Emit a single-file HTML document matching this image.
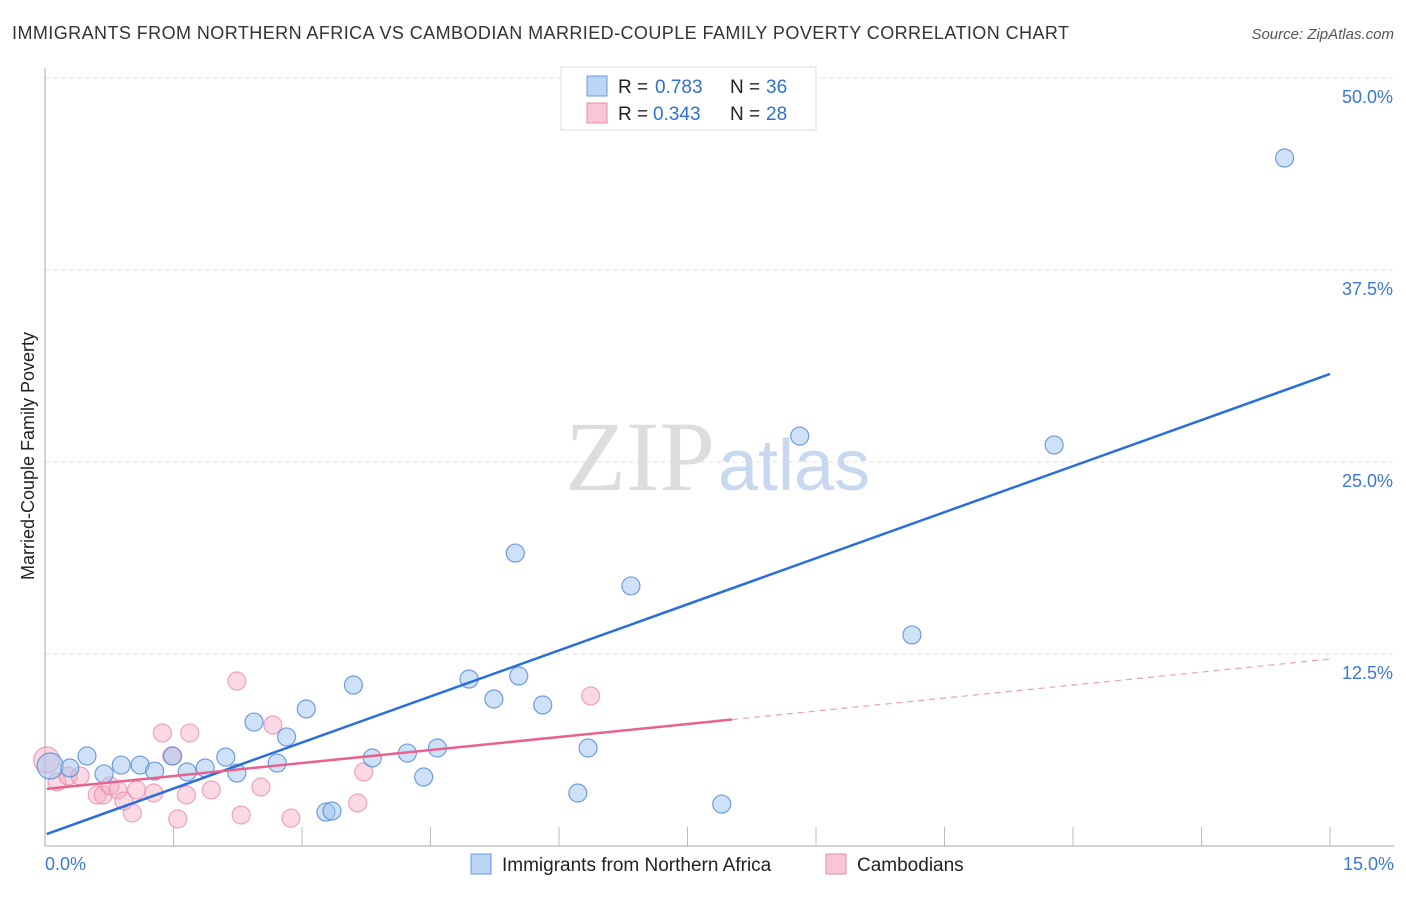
<!DOCTYPE html>
<html><head><meta charset="utf-8"><style>
body{margin:0;background:#fff;font-family:"Liberation Sans",sans-serif;}
</style></head><body>
<svg width="1406" height="892" viewBox="0 0 1406 892" xmlns="http://www.w3.org/2000/svg">
<text x="12" y="39" font-size="18" fill="#333" textLength="1057">IMMIGRANTS FROM NORTHERN AFRICA VS CAMBODIAN MARRIED-COUPLE FAMILY POVERTY CORRELATION CHART</text>
<text x="1394" y="39" font-size="15" fill="#555" font-style="italic" text-anchor="end">Source: ZipAtlas.com</text>
<text x="715" y="490" font-size="100" fill="#ddd" font-family="Liberation Serif,serif" text-anchor="end">ZIP</text>
<text x="718" y="490" font-size="72" fill="#c8d8f0">atlas</text>
<g id="grid"></g>
<g id="axes"></g>
<g id="marks"></g>
<text x="34" y="456" font-size="18" fill="#222" text-anchor="middle" transform="rotate(-90 34 456)">Married-Couple Family Poverty</text>
<text x="45" y="870" font-size="18" fill="#3a78d8">0.0%</text>
<text x="1394" y="870" font-size="18" fill="#3a78d8" text-anchor="end">15.0%</text>
<g>
<rect x="561" y="67" width="255" height="63" fill="#fff" stroke="#ddd"/>
<rect x="587" y="76" width="20" height="20" fill="#bcd4f5" stroke="#6a9ae0"/>
<rect x="587" y="103" width="20" height="20" fill="#f9c6d6" stroke="#ea8aa8"/>
<text x="618" y="93" font-size="19" fill="#222">R = </text><text x="655" y="93" font-size="19" fill="#2f6fd6">0.783</text>
<text x="730" y="93" font-size="19" fill="#222">N = </text><text x="766" y="93" font-size="19" fill="#2f6fd6">36</text>
<text x="618" y="120" font-size="19" fill="#222">R = </text><text x="653" y="120" font-size="19" fill="#2f6fd6">0.343</text>
<text x="730" y="120" font-size="19" fill="#222">N = </text><text x="766" y="120" font-size="19" fill="#2f6fd6">28</text>
</g>
<g>
<rect x="471" y="854" width="20" height="20" fill="#bcd4f5" stroke="#6a9ae0"/>
<text x="502" y="871" font-size="19" fill="#222">Immigrants from Northern Africa</text>
<rect x="826" y="854" width="20" height="20" fill="#f9c6d6" stroke="#ea8aa8"/>
<text x="857" y="871" font-size="19" fill="#222">Cambodians</text>
</g>
</svg>
<script>
const yTicks=[12.5,25,37.5,50];
const yTickLabels=["12.5%","25.0%","37.5%","50.0%"];
const blueX=[0.06,0.29,0.49,0.69,0.89,1.11,1.28,1.49,1.66,1.87,2.11,2.24,2.44,2.71,2.82,3.05,3.28,3.35,3.60,3.82,4.23,4.42,4.58,4.95,5.24,5.49,5.53,5.81,6.22,6.34,6.84,7.90,8.81,10.12,11.78,14.47];
const blueY=[5.21,5.08,5.86,4.69,5.27,5.27,4.88,5.86,4.82,5.08,5.79,4.75,8.07,5.40,7.10,8.92,2.21,2.28,10.48,5.73,6.05,4.49,6.38,10.87,9.57,19.07,11.07,9.18,3.45,6.38,16.93,2.73,26.69,13.74,26.11,44.79];
const pinkX=[0.02,0.14,0.27,0.41,0.61,0.68,0.76,0.85,0.92,1.02,1.07,1.27,1.37,1.48,1.55,1.65,1.69,1.94,2.24,2.29,2.52,2.66,2.87,3.65,3.72,6.37];
const pinkY=[5.60,4.17,4.56,4.56,3.32,3.32,3.91,3.65,2.93,2.15,3.65,3.45,7.36,5.86,1.76,3.32,7.36,3.65,10.74,2.02,3.84,7.88,1.82,2.80,4.82,9.77];
const blueTrend=[0.78,30.73];
const pinkTrend=[3.71,12.17];
const pinkSolidEnd=8.02;
const X0=45,X1=1330,Y0=846;
const sx=v=>X0+v/15*(X1-X0);
const sy=v=>Y0-v/12.5*192;
const NS="http://www.w3.org/2000/svg";
function mk(tag,attrs,parent){const e=document.createElementNS(NS,tag);for(const k in attrs)e.setAttribute(k,attrs[k]);document.getElementById(parent).appendChild(e);return e;}
yTicks.forEach((t,i)=>{
 const g=mk('line',{x1:X0,x2:1394,y1:sy(t),y2:sy(t),stroke:'#ddd','stroke-dasharray':'4,4'},'grid');
 
 
 const l=mk('text',{x:1393,y:sy(t)+25,'font-size':18,fill:'#3a78d8','text-anchor':'end'},'grid');
 l.textContent=yTickLabels[i];
 
 
});
const ya=mk('line',{x1:X0,x2:X0,y1:68,y2:Y0,stroke:'#aaa'},'axes');


const xa=mk('line',{x1:X0,x2:1394,y1:Y0,y2:Y0,stroke:'#aaa'},'axes');


for(let i=1;i<=10;i++){
 const t=mk('line',{x1:sx(i*1.5),x2:sx(i*1.5),y1:Y0,y2:Y0-19,stroke:'#bbb'},'axes');
 
 
}
pinkX.forEach((x,i)=>{
 const c=mk('circle',{cx:sx(x),cy:sy(pinkY[i]),r:i==0?13:9,fill:'rgba(245,170,195,0.45)',stroke:'rgba(235,130,165,0.7)','stroke-width':1.2},'marks');
 
 
});
blueX.forEach((x,i)=>{
 const c=mk('circle',{cx:sx(x),cy:sy(blueY[i]),r:i==0?13:9,fill:'rgba(160,195,240,0.5)',stroke:'rgba(80,135,215,0.8)','stroke-width':1.2},'marks');
 
 
});
const bl=mk('line',{x1:sx(0.02),y1:sy(blueTrend[0]),x2:sx(15),y2:sy(blueTrend[1]),stroke:'#2a6fd8','stroke-width':2.5},'marks');


const pv=v=>pinkTrend[0]+(pinkTrend[1]-pinkTrend[0])*v/15;
const pl=mk('line',{x1:sx(0.02),y1:sy(pv(0.02)),x2:sx(pinkSolidEnd),y2:sy(pv(pinkSolidEnd)),stroke:'#e8628e','stroke-width':2.5},'marks');


const pd=mk('line',{x1:sx(pinkSolidEnd),y1:sy(pv(pinkSolidEnd)),x2:sx(15),y2:sy(pinkTrend[1]),stroke:'#e8a0b8','stroke-width':1.2,'stroke-dasharray':'6,5'},'marks');


</script>
</body></html>
